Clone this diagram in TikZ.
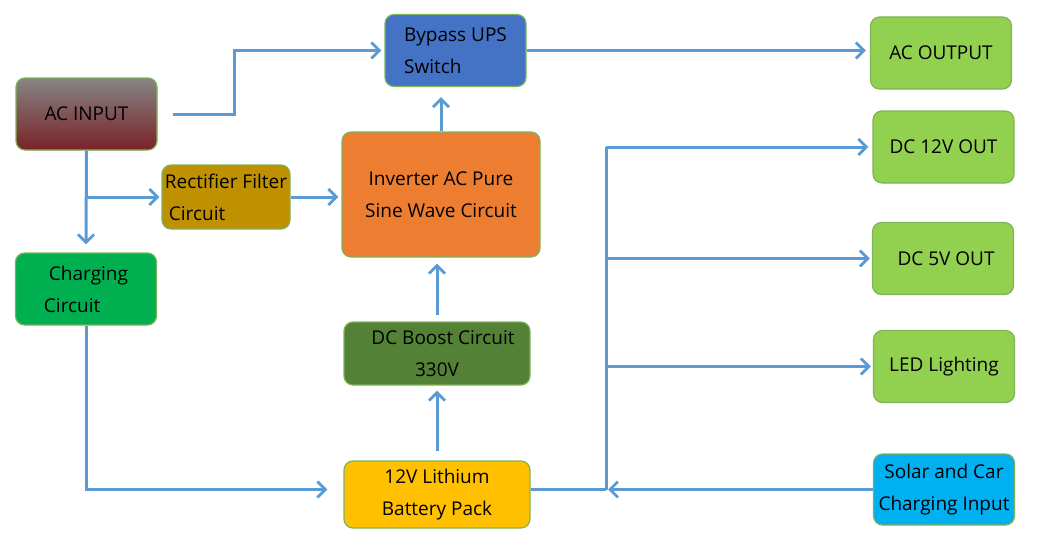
\documentclass[tikz,border=0pt]{standalone}
\usepackage{fontspec}
\setmainfont{Open Sans}
\usepackage{xcolor}
\usetikzlibrary{arrows.meta, calc}

\definecolor{wire}{HTML}{5B9BD5}
\definecolor{edge}{HTML}{7EB356}
\definecolor{upsblue}{HTML}{4472C4}
\definecolor{litegreen}{HTML}{92D050}
\definecolor{rectgold}{HTML}{BF9000}
\definecolor{invorange}{HTML}{ED7D31}
\definecolor{chggreen}{HTML}{00B050}
\definecolor{boostgreen}{HTML}{538135}
\definecolor{battyellow}{HTML}{FFC000}
\definecolor{solarcyan}{HTML}{00B0F0}
\definecolor{acgray}{HTML}{858585}
\definecolor{acred}{HTML}{7A2226}

\begin{document}
\begin{tikzpicture}[
    x=1pt, y=-1pt,
    % Global styles
    font=\fontsize{19}{32}\selectfont,
    % Box styles
    blockbox/.style={
      rectangle, rounded corners=9pt, draw=edge, fill=#1,
      align=center, line width=1.2pt, inner sep=1pt
    },
    smallbox/.style={
      blockbox=#1, minimum width=141pt, minimum height=72pt
    },
    % Connector styles
    wireline/.style={line width=3pt, color=wire},
    arr/.style={wireline, -{Straight Barb[length=8pt, width=16pt, line width=2.8pt]}},
  ]
  \useasboundingbox (0,0) rectangle (1049,543);

  % ====================================================================
  % LEFT COLUMN — AC input and charging
  % ====================================================================
  \node[smallbox=acgray, top color=acgray, bottom color=acred] (acin) at (86.5,114) {AC INPUT};
  \node[smallbox=chggreen, align=left] (chg) at (86,289) {\hspace*{5pt}Charging\\Circuit};
  \node[blockbox=rectgold, align=left, minimum width=128pt, minimum height=64pt] (rect) at (226,197) {Rectifier Filter\\\hspace*{4pt}Circuit};

  % ====================================================================
  % MIDDLE COLUMN — conversion chain
  % ====================================================================
  \node[smallbox=upsblue, align=left] (bypass) at (455.5,50.5) {Bypass UPS\\Switch};
  \node[blockbox=invorange, minimum width=198pt, minimum height=125pt] (inv) at (441,194.5) {Inverter AC Pure\\Sine Wave Circuit};
  \node[blockbox=boostgreen, minimum width=186pt, minimum height=63pt] (boost) at (437,353.5) {\hspace*{12pt}DC Boost Circuit\\330V};
  \node[blockbox=battyellow, minimum width=186pt, minimum height=67pt] (batt) at (437,494.5) {12V Lithium\\Battery Pack};

  % ====================================================================
  % RIGHT COLUMN — outputs and external input
  % ====================================================================
  \node[smallbox=litegreen] (acout) at (941,53) {AC OUTPUT};
  \node[smallbox=litegreen] (dc12) at (943.5,147) {DC 12V OUT};
  \node[smallbox=litegreen] (dc5) at (943,258.5) {\hspace*{6pt}DC 5V OUT};
  \node[smallbox=litegreen] (led) at (944,366.5) {LED Lighting};
  \node[smallbox=solarcyan, minimum height=71pt] (solar) at (944,489.5) {Solar and Car\\Charging Input};

  % DC bus
  \coordinate (bus) at (606,0);

  % ------- Arrows -------
  \draw[arr] ([xshift=15pt]acin.east) -- ++(62,0) |- ([xshift=-3pt]bypass.west);
  \draw[arr] (bypass.east) -- ([xshift=-4pt]bypass.east -| acout.west);
  \draw[arr] (inv.north) -- ($(inv.north |- bypass.south)+(0,10)$);

  \draw[arr] (acin.south) -- ($(chg.north)+(0,-8)$);
  \draw[arr] (acin.south |- rect.west) -- ([xshift=-2pt]rect.west);
  \draw[arr] (rect.east) -- ([xshift=-3pt]inv.west |- rect.east);

  \draw[arr] ($(boost.north)+(0,-6)$) -- ($(boost.north |- inv.south)+(0,6)$);
  \draw[arr] ($(batt.north)+(0,-9)$) -- ($(boost.south)+(0,5)$);
  \draw[arr] (chg.south) |- ([xshift=-16pt]batt.west |- solar.west);

  % DC bus arrows
  \draw[wireline] (batt.east |- solar.west) -- (bus |- solar.west);
  \draw[wireline] (bus |- dc12.west) -- (bus |- solar.west);
  \draw[arr] (bus |- dc12.west) -- ([xshift=-4pt]dc12.west);
  \draw[arr] (bus |- dc5.west) -- ([xshift=-2pt]dc5.west);
  \draw[arr] (bus |- led.west) -- ([xshift=-2pt]led.west);
  \draw[arr] (solar.west) -- ([xshift=2pt]bus |- solar.west);

\end{tikzpicture}
\end{document}
